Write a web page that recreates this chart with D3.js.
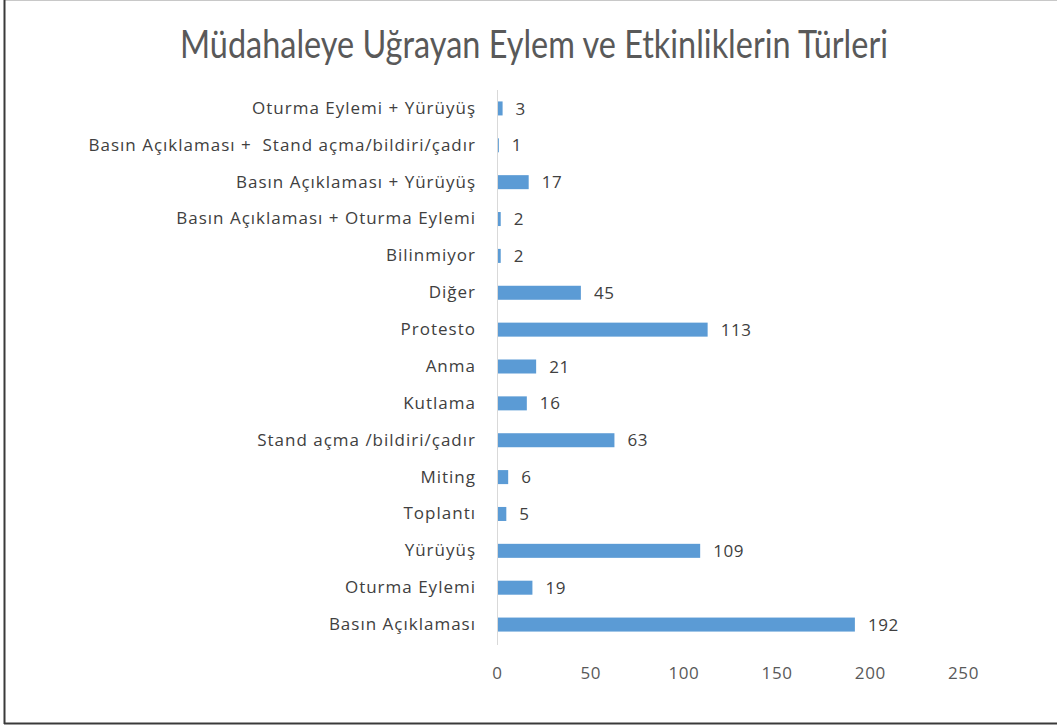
<!DOCTYPE html>
<html>
<head>
<meta charset="utf-8">
<script src="https://cdn.jsdelivr.net/npm/d3@7"></script>
<style>
  body { margin: 0; background: #fff; }
  svg { display: block; font-family: "Open Sans", Lato, sans-serif; }
  text { white-space: pre; }
</style>
</head>
<body>
<svg id="chart" width="1057" height="727"></svg>
<script>
const title = "Müdahaleye Uğrayan Eylem ve Etkinliklerin Türleri";

// bottom to top, as in the source chart
const categories = [
  "Basın Açıklaması",
  "Oturma Eylemi",
  "Yürüyüş",
  "Toplantı",
  "Miting",
  "Stand açma /bildiri/çadır",
  "Kutlama",
  "Anma",
  "Protesto",
  "Diğer",
  "Bilinmiyor",
  "Basın Açıklaması + Oturma Eylemi",
  "Basın Açıklaması + Yürüyüş",
  "Basın Açıklaması +  Stand açma/bildiri/çadır",
  "Oturma Eylemi + Yürüyüş"
];
const values = [192, 19, 109, 5, 6, 63, 16, 21, 113, 45, 2, 2, 17, 1, 3];
const xTicks = [0, 50, 100, 150, 200, 250];

const svg = d3.select("#chart");

// --- frame ---
svg.append("line").attr("x1", 4).attr("x2", 1057).attr("y1", 0.5).attr("y2", 0.5)
  .attr("stroke", "#c8c8c8").attr("stroke-width", 1);
svg.append("line").attr("x1", 4.5).attr("x2", 4.5).attr("y1", 0).attr("y2", 724)
  .attr("stroke", "#3a3a3a").attr("stroke-width", 2);
svg.append("line").attr("x1", 4).attr("x2", 1057).attr("y1", 723.5).attr("y2", 723.5)
  .attr("stroke", "#3a3a3a").attr("stroke-width", 2);

// --- title ---
svg.append("text")
  .attr("x", 534).attr("y", 58)
  .attr("text-anchor", "middle")
  .attr("font-family", "Lato, sans-serif")
  .attr("font-size", 38)
  .attr("fill", "#595959")
  .attr("textLength", 708)
  .attr("lengthAdjust", "spacingAndGlyphs")
  .text(title);

// --- scales ---
const x = d3.scaleLinear().domain([0, 250]).range([497, 963]);
const y = d3.scaleBand()
  .domain(categories.slice().reverse())
  .range([90, 643])
  .paddingInner(0.62)
  .paddingOuter(0.31);

const data = categories.map((c, i) => ({ cat: c, val: values[i] }));

// --- bars ---
svg.append("g").selectAll("rect")
  .data(data)
  .join("rect")
  .attr("x", x(0))
  .attr("y", d => y(d.cat))
  .attr("width", d => x(d.val) - x(0))
  .attr("height", y.bandwidth())
  .attr("fill", "#5b9bd5");

// --- value labels ---
svg.append("g").selectAll("text")
  .data(data)
  .join("text")
  .attr("x", d => x(d.val) + 13)
  .attr("y", d => y(d.cat) + y.bandwidth() / 2)
  .attr("dy", "0.36em")
  .attr("font-size", 17)
  .attr("letter-spacing", 0.6)
  .attr("fill", "#404040")
  .text(d => d.val);

// --- category axis ---
const yAxis = svg.append("g")
  .attr("transform", `translate(${x(0)},0)`)
  .call(d3.axisLeft(y).tickSize(0).tickPadding(21));
yAxis.select(".domain").attr("stroke", "#d9d9d9").attr("d", "M0.5,90V645");
yAxis.selectAll("text")
  .attr("font-size", 17)
  .attr("letter-spacing", 1.0)
  .attr("font-family", "'Open Sans', Lato, sans-serif")
  .attr("fill", "#404040");

// --- value axis (labels only) ---
const xAxis = svg.append("g")
  .attr("transform", "translate(0,663)")
  .call(d3.axisBottom(x).tickValues(xTicks).tickSize(0).tickPadding(4));
xAxis.select(".domain").remove();
xAxis.selectAll("text")
  .attr("font-size", 17)
  .attr("letter-spacing", 0.6)
  .attr("font-family", "'Open Sans', Lato, sans-serif")
  .attr("fill", "#595959");
</script>
</body>
</html>
